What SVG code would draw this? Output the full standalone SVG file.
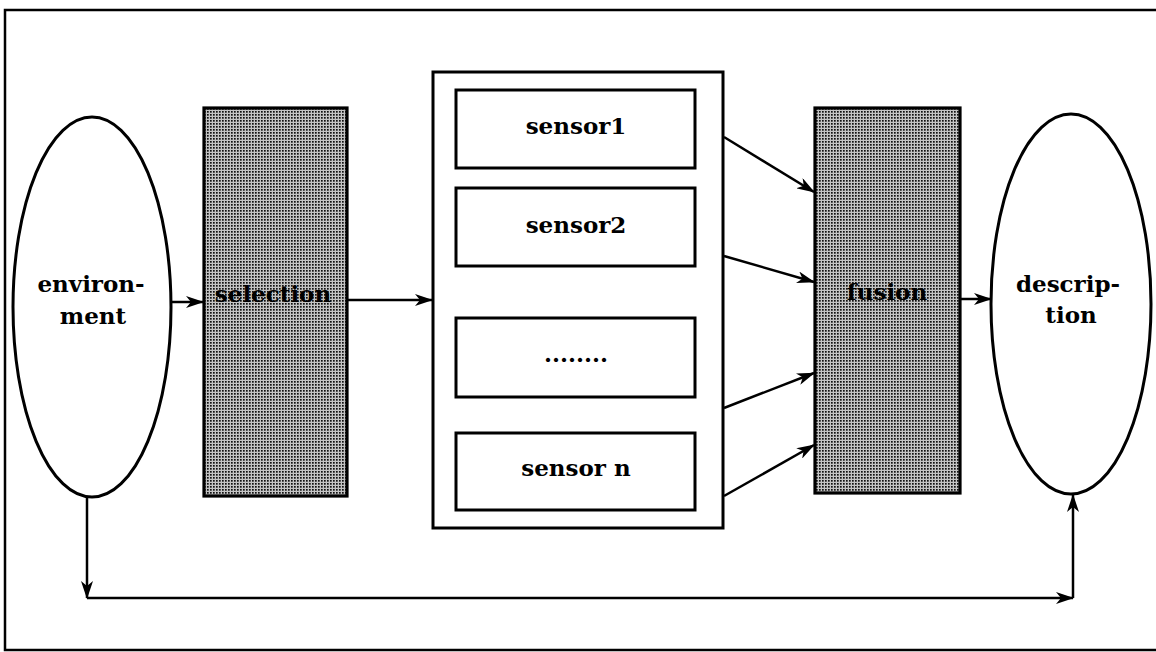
<svg xmlns="http://www.w3.org/2000/svg" width="1156" height="652" viewBox="0 0 1156 652">
<style>
.frame{fill:none;stroke:#000;stroke-width:2.5}
.shape{fill:#fff;stroke:#000;stroke-width:3}
.shade{fill:url(#dots);stroke:#000;stroke-width:3.2}
.conn{fill:none;stroke:#000;stroke-width:2.5}
.lbl{font-family:"DejaVu Serif","Liberation Serif",serif;font-weight:bold;font-size:23px;fill:#000;text-anchor:middle}
</style>
<defs>
<pattern id="dots" width="3" height="3" patternUnits="userSpaceOnUse">
<rect width="3" height="3" fill="#c4c4c4"/>
<rect width="1.7" height="1.7" fill="#111"/>
</pattern>
<marker id="ah" markerWidth="18" markerHeight="12" refX="17" refY="6" orient="auto" markerUnits="userSpaceOnUse">
<path d="M0,0 L18,6 L0,12 L5,6 Z" fill="#000"/>
</marker>
</defs>
<rect class="frame" x="5" y="10" width="1165" height="640"/>
<g id="environment">
<ellipse class="shape" cx="92" cy="307" rx="79" ry="190"/>
<text class="lbl" x="91" y="292">environ-</text>
<text class="lbl" x="93" y="324">ment</text>
</g>
<g id="selection">
<rect class="shade" x="204" y="108" width="143" height="388"/>
<text class="lbl" x="273" y="302">selection</text>
</g>
<g id="sensors">
<rect class="shape" x="433" y="72" width="290" height="456"/>
<g id="sensor1">
<rect class="shape" x="456" y="90" width="239" height="78"/>
<text class="lbl" x="576" y="134">sensor1</text>
</g>
<g id="sensor2">
<rect class="shape" x="456" y="188" width="239" height="78"/>
<text class="lbl" x="576" y="233">sensor2</text>
</g>
<g id="sensor_dots">
<rect class="shape" x="456" y="318" width="239" height="79"/>
<text class="lbl" x="576" y="362">........</text>
</g>
<g id="sensorn">
<rect class="shape" x="456" y="433" width="239" height="77"/>
<text class="lbl" x="576" y="476">sensor n</text>
</g>
</g>
<g id="fusion">
<rect class="shade" x="815" y="108" width="145" height="385"/>
<text class="lbl" x="887" y="300">fusion</text>
</g>
<g id="description">
<ellipse class="shape" cx="1071" cy="304" rx="80" ry="190"/>
<text class="lbl" x="1068" y="292">descrip-</text>
<text class="lbl" x="1071" y="323">tion</text>
</g>
<g id="connectors">
<line class="conn" x1="171" y1="302" x2="203" y2="302" marker-end="url(#ah)"/>
<line class="conn" x1="348" y1="300" x2="432" y2="300" marker-end="url(#ah)"/>
<line class="conn" x1="724" y1="137" x2="814" y2="192" marker-end="url(#ah)"/>
<line class="conn" x1="724" y1="256" x2="814" y2="282" marker-end="url(#ah)"/>
<line class="conn" x1="724" y1="408" x2="814" y2="373" marker-end="url(#ah)"/>
<line class="conn" x1="724" y1="496" x2="814" y2="445" marker-end="url(#ah)"/>
<line class="conn" x1="961" y1="299" x2="991" y2="299" marker-end="url(#ah)"/>
<line class="conn" x1="87" y1="497" x2="87" y2="598" marker-end="url(#ah)"/>
<line class="conn" x1="87" y1="598" x2="1073" y2="598" marker-end="url(#ah)"/>
<line class="conn" x1="1073" y1="598" x2="1073" y2="495" marker-end="url(#ah)"/>
</g>
</svg>
